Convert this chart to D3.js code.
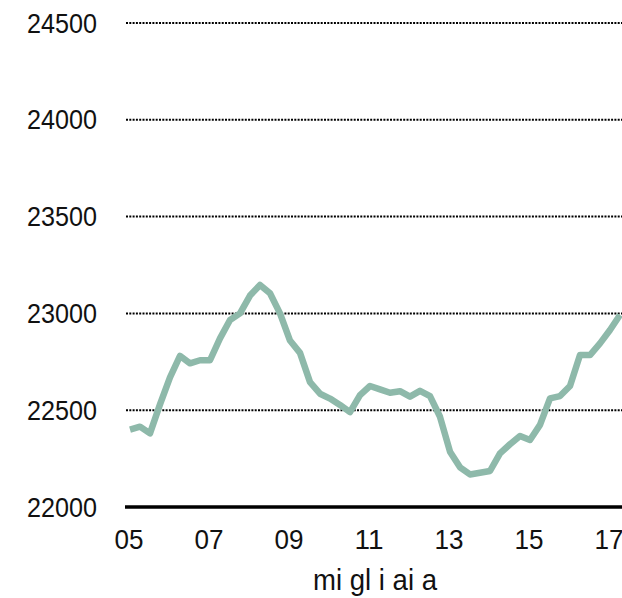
<!DOCTYPE html>
<html>
<head>
<meta charset="utf-8">
<script src="https://cdn.jsdelivr.net/npm/d3@7/dist/d3.min.js"></script>
<style>
  html, body { margin: 0; padding: 0; background: #fff; }
  svg { display: block; }
  text { font-family: "Liberation Sans", Arial, sans-serif; fill: #111; }
</style>
</head>
<body>
<svg id="chart" width="622" height="598"></svg>
<script>
// Quarterly values, 2005 Q1 -> 2017 Q2 (migliaia)
const startYear = 2005;
const values = [
  22400, 22415, 22380, 22530, 22670, 22780, 22742, 22758, 22758, 22871,
  22966, 23000, 23092, 23147, 23104, 23000, 22860, 22796, 22645, 22585,
  22560, 22527, 22490, 22578, 22625, 22608, 22590, 22598, 22570, 22600,
  22573, 22466, 22286, 22205, 22168, 22177, 22186, 22277, 22324, 22367,
  22346, 22424, 22561, 22573, 22625, 22785, 22785, 22845, 22914, 22992
];
const yTicks = [22000, 22500, 23000, 23500, 24000, 24500];
const xTicks = [2005, 2007, 2009, 2011, 2013, 2015, 2017];
const xTickLabels = ["05", "07", "09", "11", "13", "15", "17"];
const unitLabel = "mi gl i ai a";

const svg = d3.select("#chart");
const x = d3.scaleLinear().domain([2005, 2017]).range([130, 610]);
const y = d3.scaleLinear().domain([22000, 24500]).range([507, 23]);

const data = values.map((v, i) => ({ t: startYear + i / 4, v }));

// dotted gridlines
svg.append("g").selectAll("line")
  .data(yTicks.filter(d => d !== 22000))
  .join("line")
  .attr("x1", 126).attr("x2", 622)
  .attr("y1", d => y(d)).attr("y2", d => y(d))
  .attr("stroke", "#000")
  .attr("stroke-width", 2)
  .attr("stroke-dasharray", "2,1.3");

// y labels
svg.append("g").selectAll("text")
  .data(yTicks)
  .join("text")
  .attr("x", 97)
  .attr("y", d => y(d) + 9.5)
  .attr("text-anchor", "end")
  .attr("font-size", 28)
  .attr("textLength", 70)
  .attr("lengthAdjust", "spacingAndGlyphs")
  .text(d => d);

// line
svg.append("path")
  .datum(data)
  .attr("fill", "none")
  .attr("stroke", "#8eb9aa")
  .attr("stroke-width", 6.5)
  .attr("stroke-linejoin", "round")
  .attr("stroke-linecap", "butt")
  .attr("d", d3.line().x(d => x(d.t)).y(d => y(d.v)));

// baseline
svg.append("line")
  .attr("x1", 125).attr("x2", 622)
  .attr("y1", y(22000)).attr("y2", y(22000))
  .attr("stroke", "#000")
  .attr("stroke-width", 3.5);

// x labels
svg.append("g").selectAll("text")
  .data(xTicks)
  .join("text")
  .attr("x", d => x(d) - 1)
  .attr("y", 549)
  .attr("text-anchor", "middle")
  .attr("font-size", 27)
  .attr("textLength", 29)
  .attr("lengthAdjust", "spacingAndGlyphs")
  .text((d, i) => xTickLabels[i]);

// unit label
svg.append("text")
  .attr("x", 313)
  .attr("y", 590)
  .attr("font-size", 30)
  .attr("textLength", 124)
  .attr("lengthAdjust", "spacingAndGlyphs")
  .text(unitLabel);
</script>
</body>
</html>
